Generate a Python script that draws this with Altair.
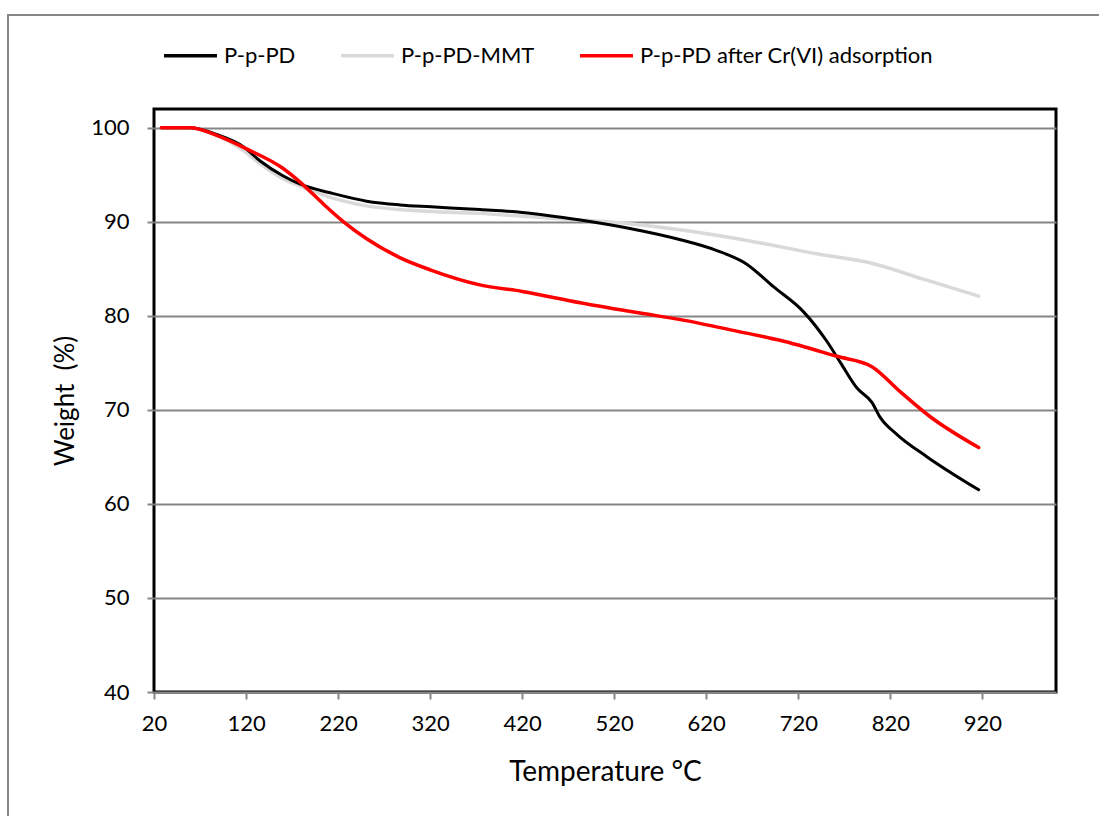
import altair as alt
import pandas as pd

# ---- data ----
series_names = ["P-p-PD", "P-p-PD-MMT", "P-p-PD after Cr(VI) adsorption"]
series_colors = ["#000000", "#D9D9D9", "#FF0000"]

temp_ppd = [28, 59, 88, 117, 135, 160, 179, 215, 251, 287, 321, 374, 420, 483, 537,
            592, 630, 664, 693, 726, 751, 766, 784, 800, 809, 827, 860, 916]
weight_ppd = [100, 100, 99.3, 98.0, 96.5, 94.9, 94.0, 93.0, 92.2, 91.8, 91.6, 91.3, 91.0,
              90.2, 89.3, 88.1, 87.0, 85.5, 83.1, 80.4, 77.3, 75.0, 72.3, 70.8, 69.2,
              67.4, 65.0, 61.5]

temp_mmt = [28, 59, 88, 117, 135, 160, 179, 215, 251, 287, 321, 374, 420, 483, 537,
            603, 660, 740, 800, 856, 916]
weight_mmt = [100, 100, 99.2, 97.6, 96.2, 94.6, 93.8, 92.5, 91.7, 91.3, 91.1, 90.9, 90.6,
              90.2, 89.8, 89.0, 88.1, 86.6, 85.6, 83.9, 82.1]

temp_cr = [28, 59, 88, 124, 160, 179, 204, 226, 251, 287, 320, 374, 420, 483, 548, 592,
           657, 700, 762, 800, 830, 863, 916]
weight_cr = [100, 100, 99.2, 97.6, 95.7, 94.2, 91.9, 90.0, 88.2, 86.2, 84.9, 83.3, 82.6,
             81.4, 80.3, 79.6, 78.3, 77.4, 75.7, 74.6, 72.0, 69.3, 66.0]

x_ticks = [20, 120, 220, 320, 420, 520, 620, 720, 820, 920]
y_ticks = [40, 50, 60, 70, 80, 90, 100]

FONT = "Lato"
W, H = 902, 583

def frame(name, t, w):
    return pd.DataFrame({"Temperature": t, "Weight": w, "Series": name})

df_ppd = frame(series_names[0], temp_ppd, weight_ppd)
df_mmt = frame(series_names[1], temp_mmt, weight_mmt)
df_cr = frame(series_names[2], temp_cr, weight_cr)

color = alt.Color(
    "Series:N",
    scale=alt.Scale(domain=series_names, range=series_colors),
    legend=alt.Legend(
        title=None, orient="none", direction="horizontal",
        legendX=8, legendY=-82, symbolType="stroke", symbolSize=2800,
        symbolStrokeWidth=3.5, labelFont=FONT, labelFontSize=22,
        labelColor="#000000", labelOffset=5, columnPadding=38, padding=0,
        labelLimit=500,
    ),
)

xenc = alt.X(
    "Temperature:Q",
    scale=alt.Scale(domain=[20, 1000], nice=False, zero=False),
    axis=alt.Axis(
        title="Temperature °C", values=x_ticks, grid=False, domain=False,
        tickColor="#868686", tickSize=7, tickWidth=2, labelPadding=14,
        labelFlush=False, labelOverlap=False,
        labelFont=FONT, labelFontSize=22, labelColor="#000000",
        titleFont=FONT, titleFontSize=28, titleFontWeight="normal",
        titleColor="#000000", titlePadding=24,
    ),
)
yenc = alt.Y(
    "Weight:Q",
    scale=alt.Scale(domain=[40, 102], nice=False, zero=False),
    axis=alt.Axis(
        title="Weight\u00a0\u00a0(%)", values=y_ticks, grid=True, gridColor="#868686",
        gridWidth=2, domain=False, tickColor="#868686", tickSize=7, tickWidth=2,
        labelPadding=18, labelFlush=False, labelOverlap=False,
        labelFont=FONT, labelFontSize=22, labelColor="#000000",
        titleFont=FONT, titleFontSize=26, titleFontWeight="normal",
        titleColor="#000000", titlePadding=12,
    ),
)

def line(df, width):
    return alt.Chart(df).mark_line(
        strokeWidth=width, interpolate="monotone", strokeCap="round"
    ).encode(x=xenc, y=yenc, color=color)

border = alt.Chart(pd.DataFrame({"k": [0]})).mark_rect(
    fill=None, stroke="#868686", strokeWidth=2
).encode(
    x=alt.value(-146), x2=alt.value(1099 - 154 + 20),
    y=alt.value(-94), y2=alt.value(816 - 109 + 20),
)

chart = alt.layer(
    border,
    line(df_mmt, 3.5),
    line(df_ppd, 3),
    line(df_cr, 3.5),
).properties(
    width=W, height=H,
    autosize=alt.AutoSizeParams(type="none"),
    padding={"left": 154, "top": 109, "right": 43, "bottom": 124},
    background="#FFFFFF",
).configure_view(
    stroke="#000000", strokeWidth=3
)

chart.save("out.html", embed_options={"renderer": "svg", "actions": False})
